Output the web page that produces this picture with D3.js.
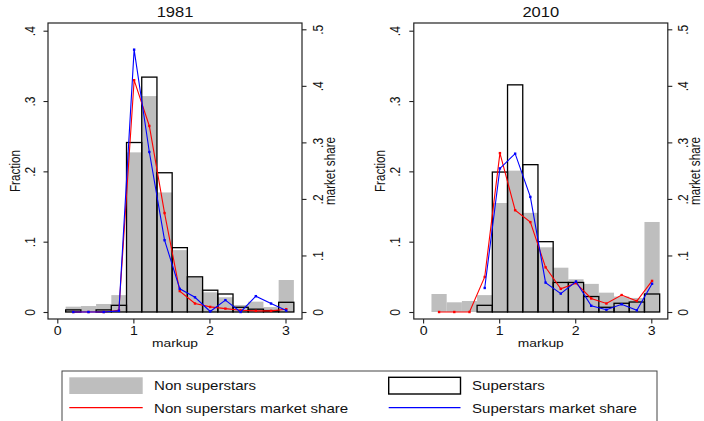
<!DOCTYPE html>
<html>
<head>
<meta charset="utf-8">
<script src="https://cdn.jsdelivr.net/npm/d3@7"></script>
<style>
  body { margin: 0; background: #fff; }
  svg { display: block; font-family: "Liberation Sans", Arial, Helvetica, sans-serif; }
</style>
</head>
<body>
<div class="chart"></div>
<script>
// bins of width .2 on markup, bar centres
const binMid = [0.21, 0.41, 0.61, 0.81, 1.01, 1.21, 1.41, 1.61, 1.81, 2.01, 2.21, 2.41, 2.61, 2.81, 3.01];
const binWidth = 0.2;

const years = ["1981", "2010"];

// Fraction (left axis)
const nonFrac1981   = [0.0076, 0.0085, 0.0114, 0.024, 0.227, 0.307, 0.170, 0.088, 0.049, 0.028, 0.021, 0.010, 0.0147, 0.007, 0.0455];
const superFrac1981 = [0.003, 0, 0.003, 0.0095, 0.241, 0.334, 0.198, 0.0915, 0.050, 0.031, 0.0256, 0.0067, 0.004, 0.002, 0.0138];
const nonFrac2010   = [0.0256, 0.0138, 0.0156, 0.024, 0.155, 0.201, 0.141, 0.092, 0.063, 0.0465, 0.040, 0.0275, 0.022, 0.020, 0.128];
const superFrac2010 = [0, 0, 0, 0.0095, 0.199, 0.323, 0.2095, 0.100, 0.042, 0.042, 0.022, 0.0067, 0.0124, 0.0142, 0.0256];

// market share (right axis)
const nonShare1981   = [0, 0, 0, 0.003, 0.410, 0.329, 0.175, 0.037, 0.015, 0.009, 0.006, 0.003, 0.002, 0.002, 0.005];
const superShare1981 = [0, 0, 0, 0.002, 0.464, 0.283, 0.127, 0.041, 0.026, 0.001, 0.021, 0.0, 0.028, 0.015, 0.0025];
const nonShare2010   = [0, 0, 0, 0.062, 0.281, 0.180, 0.159, 0.079, 0.041, 0.051, 0.024, 0.015, 0.030, 0.0195, 0.055];
const superShare2010 = [null, null, null, 0.0425, 0.254, 0.280, 0.2035, 0.052, 0.0325, 0.054, 0.011, 0.004, 0.0136, 0.003, 0.050];

const fracTicks = [0, 0.1, 0.2, 0.3, 0.4];
const shareTicks = [0, 0.1, 0.2, 0.3, 0.4, 0.5];
const markupTicks = [0, 1, 2, 3];

const legendLabels = ["Non superstars", "Superstars", "Non superstars market share", "Superstars market share"];

const WIDTH = 704;
const HEIGHT = 421;
const SX = 1.18; // text in the picture is a bit stretched sideways

const GRAY = "#bebebe";
const RED = "#ff0000";
const BLUE = "#0000ff";

// panel frame, local coords
const FL = 48, FR = 302, FT = 23, FB = 319;

const xScale = d3.scaleLinear().domain([0, 3]).range([57.3, 285.5]);
const yFrac = d3.scaleLinear().domain([0, 0.4]).range([312, 30.7]);
const yShare = d3.scaleLinear().domain([0, 0.5]).range([312, 29.3]);

const fmt = d => d === 0 ? "0" : d3.format(".1f")(d).replace(/^0/, "");

const svg = d3.select(".chart")
    .append("svg")
    .attr("width", WIDTH)
    .attr("height", HEIGHT);

svg.append("rect").attr("width", WIDTH).attr("height", HEIGHT).attr("fill", "#fff");

function addText(g, str, x, y, size, rotate) {
    return g.append("text")
        .attr("transform", `translate(${x},${y}) scale(${SX},1)` + (rotate ? " rotate(-90)" : ""))
        .attr("text-anchor", "middle")
        .attr("font-size", size)
        .attr("fill", "#111")
        .text(str);
}

function drawPanel(offsetX, title, nonFrac, superFrac, nonShare, superShare) {
    const g = svg.append("g").attr("transform", `translate(${offsetX},0)`);

    const half = binWidth / 2;
    const grayBars = binMid.map((m, i) => ({m: m, v: nonFrac[i]})).filter(d => d.v > 0);
    const blackBars = binMid.map((m, i) => ({m: m, v: superFrac[i]})).filter(d => d.v > 0);

    g.append("g").selectAll("rect")
        .data(grayBars)
        .join("rect")
        .attr("x", d => xScale(d.m - half))
        .attr("width", d => xScale(d.m + half) - xScale(d.m - half))
        .attr("y", d => yFrac(d.v))
        .attr("height", d => yFrac(0) - yFrac(d.v))
        .attr("fill", GRAY);

    g.append("g").selectAll("rect")
        .data(blackBars)
        .join("rect")
        .attr("x", d => xScale(d.m - half))
        .attr("width", d => xScale(d.m + half) - xScale(d.m - half))
        .attr("y", d => yFrac(d.v))
        .attr("height", d => yFrac(0) - yFrac(d.v))
        .attr("fill", "none")
        .attr("stroke", "#000")
        .attr("stroke-width", 1.3);

    const line = d3.line()
        .defined(d => d.v != null)
        .x(d => xScale(d.m))
        .y(d => yShare(d.v));

    [[nonShare, RED], [superShare, BLUE]].forEach(([vals, col]) => {
        const pts = binMid.map((m, i) => ({m: m, v: vals[i]}));
        g.append("path")
            .datum(pts)
            .attr("d", line)
            .attr("fill", "none")
            .attr("stroke", col)
            .attr("stroke-width", 1.1);
        g.append("g").selectAll("rect")
            .data(pts.filter(d => d.v != null))
            .join("rect")
            .attr("x", d => xScale(d.m) - 1.2)
            .attr("y", d => yShare(d.v) - 1.2)
            .attr("width", 2.4)
            .attr("height", 2.4)
            .attr("fill", col);
    });

    // frame
    g.append("rect")
        .attr("x", FL).attr("y", FT)
        .attr("width", FR - FL).attr("height", FB - FT)
        .attr("fill", "none")
        .attr("stroke", "#222")
        .attr("stroke-width", 1.2);

    // left axis
    const axL = g.append("g")
        .attr("transform", `translate(${FL},0)`)
        .call(d3.axisLeft(yFrac).tickValues(fracTicks).tickSize(4.5).tickFormat(fmt));
    axL.select(".domain").remove();
    axL.selectAll("line").attr("stroke", "#222").attr("stroke-width", 1.1);
    axL.selectAll("text")
        .attr("x", 0).attr("y", 0).attr("dy", 0)
        .attr("text-anchor", "middle")
        .attr("font-size", 12)
        .attr("font-family", null)
        .attr("fill", "#111")
        .attr("transform", `translate(-13.5,0) scale(${SX},1) rotate(-90)`);

    // right axis
    const axR = g.append("g")
        .attr("transform", `translate(${FR},0)`)
        .call(d3.axisRight(yShare).tickValues(shareTicks).tickSize(4.5).tickFormat(fmt));
    axR.select(".domain").remove();
    axR.selectAll("line").attr("stroke", "#222").attr("stroke-width", 1.1);
    axR.selectAll("text")
        .attr("x", 0).attr("y", 0).attr("dy", 0)
        .attr("text-anchor", "middle")
        .attr("font-size", 12)
        .attr("font-family", null)
        .attr("fill", "#111")
        .attr("transform", `translate(20.5,0) scale(${SX},1) rotate(-90)`);

    // x axis
    const axB = g.append("g")
        .attr("transform", `translate(0,${FB})`)
        .call(d3.axisBottom(xScale).tickValues(markupTicks).tickSize(4.5).tickFormat(d3.format("d")));
    axB.select(".domain").remove();
    axB.selectAll("line").attr("stroke", "#222").attr("stroke-width", 1.1);
    axB.selectAll("text")
        .attr("x", 0).attr("y", 0).attr("dy", 0)
        .attr("font-size", 12)
        .attr("font-family", null)
        .attr("fill", "#111")
        .attr("transform", `translate(0,16) scale(${SX},1)`);

    const cx = (FL + FR) / 2;
    addText(g, title, cx, 17.3, 14, false);
    addText(g, "markup", cx, 346.5, 11.7, false);
    addText(g, "Fraction", FL - 28.5, (FT + FB) / 2, 11.7, true);
    addText(g, "market share", FR + 32.5, (FT + FB) / 2, 11.7, true);
}

drawPanel(0, years[0], nonFrac1981, superFrac1981, nonShare1981, superShare1981);
drawPanel(365.8, years[1], nonFrac2010, superFrac2010, nonShare2010, superShare2010);

// legend
const leg = svg.append("g");
leg.append("rect")
    .attr("x", 62).attr("y", 371)
    .attr("width", 595).attr("height", 70)
    .attr("fill", "#fff")
    .attr("stroke", "#444")
    .attr("stroke-width", 1);

leg.append("rect")
    .attr("x", 69.3).attr("y", 377.3).attr("width", 73.4).attr("height", 16.7)
    .attr("fill", GRAY);
leg.append("rect")
    .attr("x", 388.7).attr("y", 377.3).attr("width", 71.8).attr("height", 16.7)
    .attr("fill", "#fff").attr("stroke", "#000").attr("stroke-width", 1.4);
leg.append("line")
    .attr("x1", 69.3).attr("x2", 142.7).attr("y1", 407.7).attr("y2", 407.7)
    .attr("stroke", RED).attr("stroke-width", 1.2);
leg.append("line")
    .attr("x1", 388.7).attr("x2", 460.5).attr("y1", 407.7).attr("y2", 407.7)
    .attr("stroke", BLUE).attr("stroke-width", 1.2);

const legPos = [[154, 390], [472, 390], [154, 412.7], [472, 412.7]];
legendLabels.forEach((lab, i) => {
    leg.append("text")
        .attr("transform", `translate(${legPos[i][0]},${legPos[i][1]}) scale(1.16,1)`)
        .attr("font-size", 13)
        .attr("fill", "#111")
        .text(lab);
});
</script>
</body>
</html>
